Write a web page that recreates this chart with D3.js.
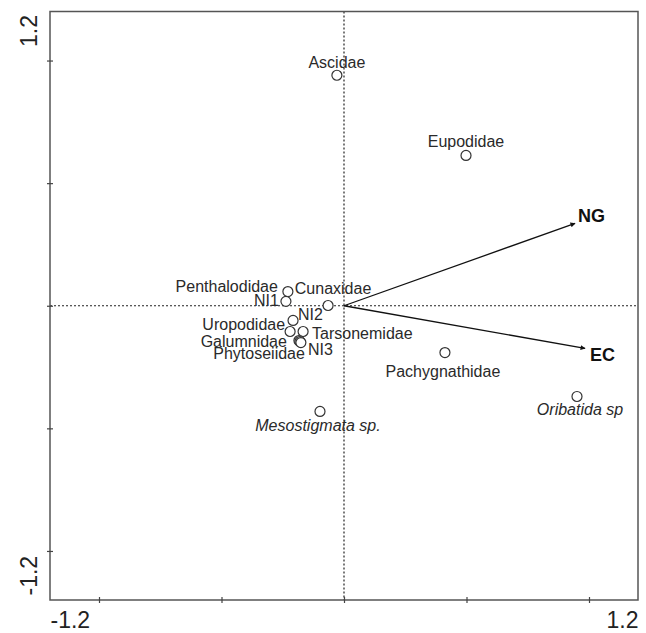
<!DOCTYPE html>
<html>
<head>
<meta charset="utf-8">
<script src="https://cdn.jsdelivr.net/npm/d3@7"></script>
<style>
body { margin: 0; background: #fff; }
text { font-family: "Liberation Sans", Arial, sans-serif; }
.lbl { font-size: 16px; fill: #2a2a2a; }
.env { font-size: 18px; font-weight: bold; fill: #111; }
.axlab { font-size: 23px; fill: #222; }
</style>
</head>
<body>
<div id="chart"></div>
<script>
// species scores (axis 1, axis 2)
var species = ['Ascidae', 'Eupodidae', 'Pachygnathidae', 'Oribatida sp', 'Mesostigmata sp.',
    'Penthalodidae', 'NI1', 'Cunaxidae', 'NI2', 'Uropodidae', 'Tarsonemidae',
    'Galumnidae', 'Phytoseiidae', 'NI3'];
var axis1 = [-0.029, 0.498, 0.412, 0.951, -0.098,
    -0.229, -0.237, -0.065, -0.208, -0.220, -0.167,
    -0.184, -0.180, -0.176];
var axis2 = [0.940, 0.613, -0.191, -0.370, -0.431,
    0.058, 0.018, 0.001, -0.060, -0.105, -0.105,
    -0.142, -0.146, -0.150];
var italicNames = ['Oribatida sp', 'Mesostigmata sp.'];

// environmental variables
var envNames = ['NG', 'EC'];
var envAxis1 = [0.943, 0.984];
var envAxis2 = [0.336, -0.174];

var axisTicks = [-1, -0.5, 0, 0.5, 1];
var axisEnds = [-1.2, 1.2];

// label placement: anchor, dx, dy (px from the circle)
var labelPos = {
    'Ascidae': ['middle', 0, -7],
    'Eupodidae': ['middle', 0, -8],
    'Pachygnathidae': ['middle', -2, 24.5],
    'Oribatida sp': ['middle', 3, 19],
    'Mesostigmata sp.': ['middle', -2, 20],
    'Penthalodidae': ['end', -10, 0],
    'NI1': ['end', -7, 5],
    'Cunaxidae': ['middle', 5, -12],
    'NI2': ['start', 5, 0],
    'Uropodidae': ['end', -5, -1],
    'Tarsonemidae': ['start', 9, 7.5],
    'Galumnidae': ['end', -12, 6],
    'Phytoseiidae': ['end', 5, 17],
    'NI3': ['start', 7, 12.5]
};

var data = species.map((s, i) => ({ name: s, x: axis1[i], y: axis2[i] }));
var env = envNames.map((s, i) => ({ name: s, x: envAxis1[i], y: envAxis2[i] }));

var W = 646, H = 633;
var svg = d3.select('#chart').append('svg')
    .attr('width', W)
    .attr('height', H);

var x = d3.scaleLinear().domain([-1.2, 1.2]).range([50, 638]);
var y = d3.scaleLinear().domain([-1.2, 1.2]).range([600, 11.5]);

svg.append('defs').append('marker')
    .attr('id', 'arrow')
    .attr('viewBox', '0 0 10 10')
    .attr('refX', 9)
    .attr('refY', 5)
    .attr('markerWidth', 6)
    .attr('markerHeight', 5)
    .attr('markerUnits', 'userSpaceOnUse')
    .attr('orient', 'auto')
    .append('path')
    .attr('d', 'M0,0 L10,5 L0,10 z')
    .attr('fill', '#111');

// dotted zero lines
svg.append('line')
    .attr('x1', x(0)).attr('x2', x(0))
    .attr('y1', y(1.2)).attr('y2', y(-1.2))
    .attr('stroke', '#222').attr('stroke-width', 1.2)
    .attr('stroke-dasharray', '2,2');
svg.append('line')
    .attr('x1', x(-1.2)).attr('x2', x(1.2))
    .attr('y1', y(0)).attr('y2', y(0))
    .attr('stroke', '#222').attr('stroke-width', 1.2)
    .attr('stroke-dasharray', '2,2');

// frame
svg.append('rect')
    .attr('x', x(-1.2)).attr('y', y(1.2))
    .attr('width', x(1.2) - x(-1.2))
    .attr('height', y(-1.2) - y(1.2))
    .attr('fill', 'none')
    .attr('stroke', '#555')
    .attr('stroke-width', 1.5);

// tick marks, crossing the axis lines
function ticks(g) {
    g.selectAll('.domain').remove();
    g.selectAll('line').attr('stroke', '#444').attr('stroke-width', 1.2);
    g.selectAll('text').remove();
}
svg.append('g').attr('transform', 'translate(0,' + y(-1.2) + ')')
    .call(d3.axisBottom(x).tickValues(axisTicks).tickSize(3)).call(ticks);
svg.append('g').attr('transform', 'translate(0,' + y(-1.2) + ')')
    .call(d3.axisTop(x).tickValues(axisTicks).tickSize(3)).call(ticks);
svg.append('g').attr('transform', 'translate(' + x(-1.2) + ',0)')
    .call(d3.axisLeft(y).tickValues(axisTicks).tickSize(3)).call(ticks);
svg.append('g').attr('transform', 'translate(' + x(-1.2) + ',0)')
    .call(d3.axisRight(y).tickValues(axisTicks).tickSize(3)).call(ticks);

// end labels
var fmt = d => d.toFixed(1);
var xl = svg.append('g').attr('transform', 'translate(0,' + y(-1.2) + ')')
    .call(d3.axisBottom(x).tickValues(axisEnds).tickSize(0).tickFormat(fmt));
xl.select('.domain').remove();
xl.selectAll('text')
    .attr('class', 'axlab')
    .attr('font-size', null).attr('font-family', null)
    .attr('dy', null)
    .attr('y', 28)
    .attr('text-anchor', (d, i) => i === 0 ? 'start' : 'end');

var yl = svg.append('g').attr('transform', 'translate(' + x(-1.2) + ',0)')
    .call(d3.axisLeft(y).tickValues(axisEnds).tickSize(0).tickFormat(fmt));
yl.select('.domain').remove();
yl.selectAll('.tick').each(function (d) {
    var t = d3.select(this);
    t.select('text')
        .attr('class', 'axlab')
        .attr('font-size', null).attr('font-family', null)
        .attr('x', null).attr('dy', null)
        .attr('transform', 'translate(-13,' + (d < 0 ? -5 : 3) + ') rotate(-90)')
        .attr('text-anchor', d < 0 ? 'start' : 'end');
});

// environmental arrows
svg.selectAll('.arrow')
    .data(env)
    .enter()
    .append('line')
    .attr('class', 'arrow')
    .attr('x1', x(0)).attr('y1', y(0))
    .attr('x2', d => x(d.x)).attr('y2', d => y(d.y))
    .attr('stroke', '#111')
    .attr('stroke-width', 1.3)
    .attr('marker-end', 'url(#arrow)');

svg.selectAll('.env')
    .data(env)
    .enter()
    .append('text')
    .attr('class', 'env')
    .attr('x', d => x(d.x) + (d.y > 0 ? 3 : 5))
    .attr('y', d => y(d.y) + (d.y > 0 ? -1 : 13))
    .text(d => d.name);

// species points
svg.selectAll('.pt')
    .data(data)
    .enter()
    .append('circle')
    .attr('class', 'pt')
    .attr('cx', d => x(d.x))
    .attr('cy', d => y(d.y))
    .attr('r', 5)
    .attr('fill', '#fff')
    .attr('stroke', '#333')
    .attr('stroke-width', 1.2);

svg.selectAll('.lbl')
    .data(data)
    .enter()
    .append('text')
    .attr('class', 'lbl')
    .attr('x', d => x(d.x) + labelPos[d.name][1])
    .attr('y', d => y(d.y) + labelPos[d.name][2])
    .attr('text-anchor', d => labelPos[d.name][0])
    .style('font-style', d => italicNames.indexOf(d.name) >= 0 ? 'italic' : 'normal')
    .text(d => d.name);
</script>
</body>
</html>
